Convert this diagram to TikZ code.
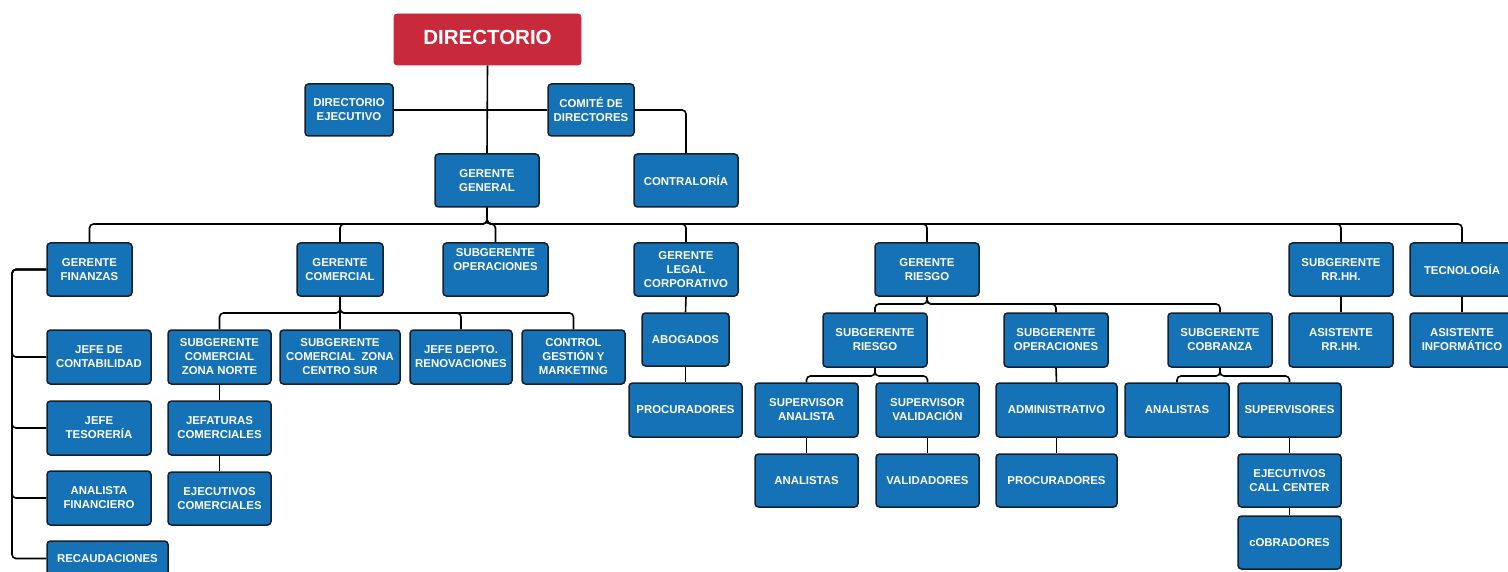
\documentclass[tikz,border=0pt]{standalone}
\usepackage{fontspec}
\setmainfont{Liberation Sans}
\usetikzlibrary{backgrounds}
\definecolor{boxblue}{HTML}{1572B6}
\definecolor{boxedge}{HTML}{17202A}
\definecolor{dirred}{HTML}{C8293B}
\tikzset{
  bx/.style={rectangle, rounded corners=3.5pt, fill=boxblue, draw=boxedge, line width=1.5pt,
    text=white, align=center, inner sep=0pt,
    font=\bfseries\fontsize{11.4}{14}\selectfont},
  redbox/.style={rectangle, rounded corners=3pt, fill=dirred, draw=dirred, line width=0.8pt,
    text=white, align=center, inner sep=0pt,
    font=\bfseries\fontsize{20.5}{24}\selectfont},
  conn/.style={draw=black, line width=1.6pt, rounded corners=4pt}
}
\newcommand{\bx}[7][]{\node[bx,#1,minimum width={(#4-#2)*1pt},minimum height={(#5-#3)*1pt}] (#6) at ({(#2+#4)/2},{(#3+#5)/2}) {#7};}
\begin{document}
\begin{tikzpicture}[x=1pt,y=-1pt]
\useasboundingbox (0,0) rectangle (1508,572);
\coordinate (bus1) at (0,224);
\coordinate (busc) at (0,313);
\coordinate (busr) at (0,304);
\coordinate (bus3) at (0,376);
\coordinate (fx) at (12,0);
\begin{scope}
\clip (0,0) rectangle (1508,572);
% ---------------- nodes ----------------
\node[redbox,minimum width=187pt,minimum height=51pt,text depth=4pt] (dir) at (487.5,39.5) {DIRECTORIO};
\bx{305}{84}{393}{136}{dej}{DIRECTORIO\\EJECUTIVO}
\bx{548}{84}{634}{136}{com}{COMITÉ DE\\DIRECTORES}
\bx{435}{154}{539}{207}{gg}{GERENTE\\GENERAL}
\bx{634}{154}{738}{207}{con}{CONTRALORÍA}

\bx{47}{243}{132}{296}{gf}{GERENTE\\FINANZAS}
\bx{297}{243}{383}{296}{gc}{GERENTE\\COMERCIAL}
\bx{443}{243}{548}{296}{so1}{SUBGERENTE\\OPERACIONES\\[6pt]\mbox{}}
\bx{634}{243}{738}{296}{gl}{GERENTE\\LEGAL\\CORPORATIVO}
\bx{875}{243}{979}{296}{gr}{GERENTE\\RIESGO}
\bx{1289}{243}{1393}{296}{rh}{SUBGERENTE\\RR.HH.}
\bx{1410}{243}{1514}{296}{tec}{TECNOLOGÍA}

\bx{47}{330}{151}{384}{jc}{JEFE DE\\CONTABILIDAD}
\bx{47}{401}{151}{455}{jt}{JEFE\\TESORERÍA}
\bx{47}{471}{151}{525}{af}{ANALISTA\\FINANCIERO}
\bx{47}{541}{168}{576}{rec}{RECAUDACIONES}

\bx{168}{330}{271}{384}{szn}{SUBGERENTE\\COMERCIAL\\ZONA NORTE}
\bx{280}{330}{400}{384}{szc}{SUBGERENTE\\COMERCIAL~~ZONA\\CENTRO SUR}
\bx{410}{330}{512}{384}{jd}{JEFE DEPTO.\\RENOVACIONES}
\bx{522}{330}{625}{384}{cgm}{CONTROL\\GESTIÓN Y\\MARKETING}
\bx{168}{401}{271}{455}{jef}{JEFATURAS\\COMERCIALES}
\bx{168}{472}{271}{525}{ejc}{EJECUTIVOS\\COMERCIALES}

\bx{642}{313}{729}{366}{ab}{ABOGADOS}
\bx{629}{383}{742}{437}{pr1}{PROCURADORES}

\bx{823}{313}{927}{367}{sr}{SUBGERENTE\\RIESGO}
\bx{1004}{313}{1108}{367}{so2}{SUBGERENTE\\OPERACIONES}
\bx{1168}{313}{1272}{367}{sc}{SUBGERENTE\\COBRANZA}
\bx{1289}{313}{1393}{367}{arh}{ASISTENTE\\RR.HH.}
\bx{1410}{313}{1514}{367}{ai}{ASISTENTE\\INFORMÁTICO}

\bx{755}{383}{858}{437}{sa}{SUPERVISOR\\ANALISTA}
\bx{876}{383}{979}{437}{sv}{SUPERVISOR\\VALIDACIÓN}
\bx{996}{383}{1117}{437}{adm}{ADMINISTRATIVO}
\bx{1125}{383}{1229}{437}{an2}{ANALISTAS}
\bx{1238}{383}{1341}{437}{sup}{SUPERVISORES}

\bx{755}{454}{858}{507}{an1}{ANALISTAS}
\bx{876}{454}{979}{507}{val}{VALIDADORES}
\bx{996}{454}{1117}{507}{pr2}{PROCURADORES}
\bx{1238}{454}{1341}{507}{ecc}{EJECUTIVOS\\CALL CENTER}
\bx{1238}{516}{1341}{569}{cob}{cOBRADORES}
\end{scope}
% ---------------- connectors ----------------
\begin{scope}[on background layer]
\path[conn] (dir.south) -- (gg.north);
\path[conn] (dej.east) -- (com.west);
\path[conn] (com.east) -| (con.north);
\foreach \c in {gf,gc,so1,gl,gr,rh,tec}{
  \path[conn] (gg.south) -- (gg.south |- bus1) -| (\c.north);
}
\foreach \c in {jc,jt,af,rec}{
  \path[conn] (gf.west) -| (fx |- \c.west) -- (\c.west);
}
\foreach \c in {szn,szc,jd,cgm}{
  \path[conn] (gc.south) -- (gc.south |- busc) -| (\c.north);
}
\path[conn] (szn.south) -- (jef.north);
\path[conn] (jef.south) -- (ejc.north);
\path[conn] (gl.south) -- (ab.north);
\path[conn] (ab.south) -- (pr1.north);
\foreach \c in {sr,so2,sc}{
  \path[conn] (gr.south) -- (gr.south |- busr) -| (\c.north);
}
\foreach \c in {sa,sv}{
  \path[conn] (sr.south) -- (sr.south |- bus3) -| (\c.north);
}
\foreach \c in {an2,sup}{
  \path[conn] (sc.south) -- (sc.south |- bus3) -| (\c.north);
}
\path[conn] (sa.south) -- (an1.north);
\path[conn] (sv.south) -- (val.north);
\path[conn] (so2.south) -- (adm.north);
\path[conn] (adm.south) -- (pr2.north);
\path[conn] (sup.south) -- (ecc.north);
\path[conn] (ecc.south) -- (cob.north);
\path[conn] (rh.south) -- (arh.north);
\path[conn] (tec.south) -- (ai.north);
\end{scope}
\end{tikzpicture}
\end{document}
